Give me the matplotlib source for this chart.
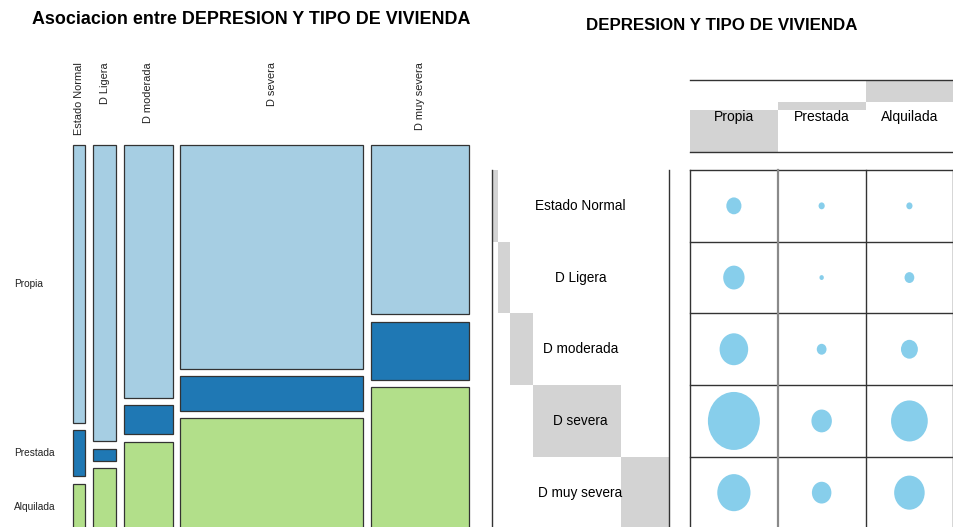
import numpy as np
import matplotlib
matplotlib.use("Agg")
import matplotlib.pyplot as plt
import matplotlib.transforms as mtransforms
from matplotlib.patches import Ellipse

plt.rcParams['font.family'] = ['Liberation Sans', 'DejaVu Sans']

# datos: conteos por nivel de depresion y tipo de vivienda
depresion = ["Estado Normal", "D Ligera", "D moderada", "D severa", "D muy severa"]
vivienda = ["Propia", "Prestada", "Alquilada"]
propia = [12, 24, 43, 142, 58]
prestada = [2, 1, 5, 22, 20]
alquilada = [2, 5, 15, 71, 49]

tabla = np.array([propia, prestada, alquilada]).T
colores = ["#A6CEE3", "#1F78B4", "#B2DF8A"]
gris = "#D3D3D3"
linea = "#333333"

W, H = 954, 527
fig = plt.figure(figsize=(W / 100, H / 100), dpi=100)


def caja(x0, y0, x1, y1):
    # caja en pixeles -> fraccion de figura
    return [x0 / W, 1 - y1 / H, (x1 - x0) / W, (y1 - y0) / H]


tot_fila = tabla.sum(axis=1)
tot_col = tabla.sum(axis=0)
total = tabla.sum()

# ---------------- mosaico ----------------
ax = fig.add_axes(caja(73, 145.3, 469.3, 530))
ax.set_xlim(0, 1)
ax.set_ylim(0, 1)
ax.axis('off')
gx = 7.5 / 396.3
gy = 7.5 / 384.7
anchos = tot_fila / total * (1 - gx * (len(depresion) - 1))
trans_top = mtransforms.blended_transform_factory(ax.transData, ax.transAxes)
x = 0.0
for i, nom in enumerate(depresion):
    fr = tabla[i] / tot_fila[i] * (1 - gy * (len(vivienda) - 1))
    y = 1.0
    for j, viv in enumerate(vivienda):
        ax.bar(x, fr[j], width=anchos[i], bottom=y - fr[j], align='edge',
               color=colores[j], edgecolor=linea, linewidth=0.9, clip_on=False)
        if i == 0:
            ax.text(-0.149, y - fr[j] / 2, viv, ha='left', va='center',
                    fontsize=7.3, color='#222222')
        y -= fr[j] + gy
    ax.text(x + anchos[i] / 2, 1.2165, nom, rotation=90, ha='center', va='top',
            fontsize=7.9, color='#222222', transform=trans_top)
    x += anchos[i] + gx

fig.text(251.5 / W, 1 - 19.5 / H, "Asociacion entre DEPRESION Y TIPO DE VIVIENDA",
         ha='center', va='center', fontsize=12.9, fontweight='bold')

# ---------------- balloon plot ----------------
fig.text(722 / W, 1 - 25 / H, "DEPRESION Y TIPO DE VIVIENDA",
         ha='center', va='center', fontsize=12.2, fontweight='bold')

# cabecera con totales por columna
axh = fig.add_axes(caja(690, 80.3, 953.3, 152.3))
base = np.concatenate([[0], np.cumsum(tot_col)[:-1]])
axh.bar(range(len(vivienda)), tot_col, width=1, bottom=base, color=gris)
axh.set_xlim(-0.5, len(vivienda) - 0.5)
axh.set_ylim(0, total)
axh.axis('off')
axh.axhline(0, color=linea, lw=1, clip_on=False)
axh.axhline(total, color=linea, lw=1, clip_on=False)
trans_h = mtransforms.blended_transform_factory(axh.transData, axh.transAxes)
for j, viv in enumerate(vivienda):
    axh.text(j, 0.49, viv, ha='center', va='center', fontsize=10,
             transform=trans_h, zorder=5)

# panel de filas con totales
axr = fig.add_axes(caja(492.3, 170, 668.7, 528.5))
izq = np.concatenate([[0], np.cumsum(tot_fila)[:-1]])
axr.barh(range(len(depresion)), tot_fila, height=1, left=izq, color=gris)
axr.set_ylim(len(depresion) - 0.5, -0.5)
axr.set_xlim(0, total)
axr.set_xticks([])
axr.set_yticks([])
for s in ['top', 'bottom']:
    axr.spines[s].set_visible(False)
for s in ['left', 'right']:
    axr.spines[s].set_color(linea)
    axr.spines[s].set_linewidth(1)
trans_r = mtransforms.blended_transform_factory(axr.transAxes, axr.transData)
for i, nom in enumerate(depresion):
    axr.text(0.5, i, nom, ha='center', va='center', fontsize=9.8,
             transform=trans_r, zorder=5)

# cuadricula con globos
axg = fig.add_axes(caja(690, 170, 953.3, 528.5))
axg.set_xlim(-0.5, len(vivienda) - 0.5)
axg.set_ylim(len(depresion) - 0.5, -0.5)
axg.axis('off')
for k in range(len(depresion) + 1):
    axg.axhline(k - 0.5, color=linea, lw=1, clip_on=False)
for k in range(len(vivienda) + 1):
    if k == 1:
        axg.axvline(k - 0.5, color='#8a8a8a', lw=1.6, clip_on=False)
    else:
        axg.axvline(k - 0.5, color=linea, lw=1, clip_on=False)

wmax, hmax = 0.592, 0.809
cmax = tabla.max()
for i in range(len(depresion)):
    for j in range(len(vivienda)):
        f = np.sqrt(tabla[i, j] / cmax)
        axg.add_patch(Ellipse((j, i), wmax * f, hmax * f, color='#87CEEB', lw=0))

fig.savefig("out.png", dpi=100)
